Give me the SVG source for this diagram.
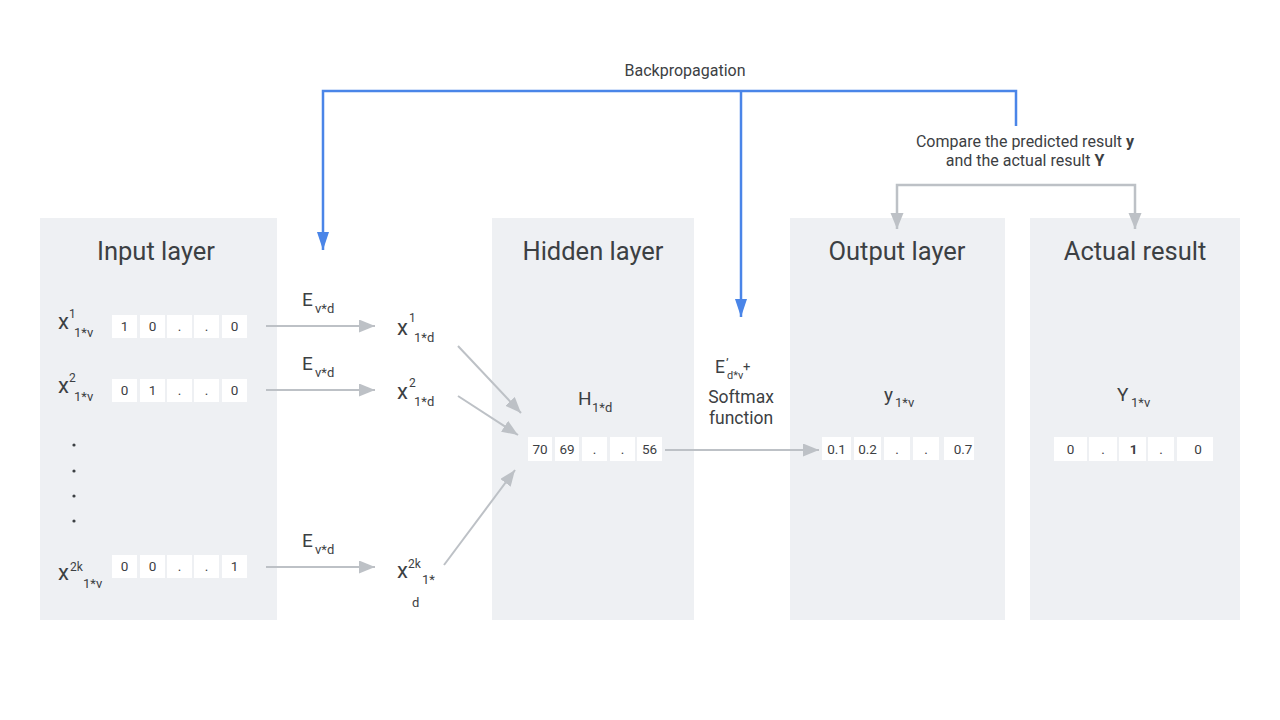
<svg xmlns="http://www.w3.org/2000/svg" width="1280" height="720" viewBox="0 0 1280 720">
<defs>
<style>
text{font-family:Roboto,"Liberation Sans",sans-serif;fill:#3c4043}
.panel{fill:#eef0f3}
.title{font-size:25.5px;text-anchor:middle}
.cell{fill:#ffffff}
.ct{font-size:13.5px;text-anchor:middle}
.big{font-size:22px}
.sym{font-size:19px}
.sup{font-size:12px}
.sub{font-size:13px}
.lbl{font-size:16px;text-anchor:middle}
.mid{font-size:17.5px;text-anchor:middle}
.g{fill:none;stroke:#bdc1c6;stroke-width:2}
.b{fill:none;stroke:#4a85e8;stroke-width:2.5}
</style>
<marker id="ag" markerUnits="userSpaceOnUse" markerWidth="18" markerHeight="14" refX="16" refY="6.5" orient="auto-start-reverse" viewBox="0 0 18 14"><path d="M0,0 L16,6.5 L0,13 z" fill="#bdc1c6"/></marker>
<marker id="ab" markerUnits="userSpaceOnUse" markerWidth="20" markerHeight="14" refX="18" refY="6" orient="auto" viewBox="0 0 20 14"><path d="M0,0 L18,6 L0,12 z" fill="#4a85e8"/></marker>
</defs>
<rect width="1280" height="720" fill="#ffffff"/>

<g id="input-layer">
<rect class="panel" x="40" y="218" width="237" height="402"/>
<text class="title" x="156" y="260">Input layer</text>
<text x="58" y="329"><tspan class="big">x</tspan></text>
<text class="sup" x="69" y="318">1</text>
<text class="sub" x="74" y="337">1*v</text>
<g>
<rect class="cell" x="112" y="315" width="25" height="23"/><rect class="cell" x="140" y="315" width="25" height="23"/><rect class="cell" x="167" y="315" width="25" height="23"/><rect class="cell" x="194" y="315" width="25" height="23"/><rect class="cell" x="222" y="315" width="25" height="23"/>
<text class="ct" x="124.5" y="331">1</text><text class="ct" x="152.5" y="331">0</text><text class="ct" x="179.5" y="331">.</text><text class="ct" x="206.5" y="331">.</text><text class="ct" x="234.5" y="331">0</text>
</g>
<text x="58" y="393"><tspan class="big">x</tspan></text>
<text class="sup" x="69" y="382">2</text>
<text class="sub" x="74" y="401">1*v</text>
<g>
<rect class="cell" x="112" y="379" width="25" height="23"/><rect class="cell" x="140" y="379" width="25" height="23"/><rect class="cell" x="167" y="379" width="25" height="23"/><rect class="cell" x="194" y="379" width="25" height="23"/><rect class="cell" x="222" y="379" width="25" height="23"/>
<text class="ct" x="124.5" y="395">0</text><text class="ct" x="152.5" y="395">1</text><text class="ct" x="179.5" y="395">.</text><text class="ct" x="206.5" y="395">.</text><text class="ct" x="234.5" y="395">0</text>
</g>
<circle cx="74" cy="445" r="1.6" fill="#3c4043"/>
<circle cx="74" cy="471" r="1.6" fill="#3c4043"/>
<circle cx="74" cy="496" r="1.6" fill="#3c4043"/>
<circle cx="74" cy="521" r="1.6" fill="#3c4043"/>
<text x="58" y="580"><tspan class="big">x</tspan></text>
<text class="sup" x="70" y="571">2k</text>
<text class="sub" x="83" y="588">1*v</text>
<g>
<rect class="cell" x="112" y="555" width="25" height="23"/><rect class="cell" x="140" y="555" width="25" height="23"/><rect class="cell" x="167" y="555" width="25" height="23"/><rect class="cell" x="194" y="555" width="25" height="23"/><rect class="cell" x="222" y="555" width="25" height="23"/>
<text class="ct" x="124.5" y="571">0</text><text class="ct" x="152.5" y="571">0</text><text class="ct" x="179.5" y="571">.</text><text class="ct" x="206.5" y="571">.</text><text class="ct" x="234.5" y="571">1</text>
</g>
</g>

<g id="embedding-labels">
<text x="302" y="306"><tspan class="sym">E</tspan></text><text class="sub" x="315" y="313">v*d</text>
<text x="302" y="370"><tspan class="sym">E</tspan></text><text class="sub" x="315" y="377">v*d</text>
<text x="302" y="547"><tspan class="sym">E</tspan></text><text class="sub" x="315" y="554">v*d</text>
</g>

<g id="word-vectors">
<text x="397" y="335"><tspan class="big">x</tspan></text>
<text class="sup" x="409" y="322">1</text>
<text class="sub" x="414" y="342">1*d</text>
<text x="397" y="399"><tspan class="big">x</tspan></text>
<text class="sup" x="409" y="387">2</text>
<text class="sub" x="414" y="406">1*d</text>
<text x="397" y="578"><tspan class="big">x</tspan></text>
<text class="sup" x="408" y="568">2k</text>
<text class="sub" x="422" y="584">1*</text>
<text class="sub" x="412" y="607">d</text>
</g>

<g id="hidden-layer">
<rect class="panel" x="492" y="218" width="202" height="402"/>
<text class="title" x="593" y="260">Hidden layer</text>
<text x="578" y="405"><tspan class="sym">H</tspan></text><text class="sub" x="592" y="412">1*d</text>
<rect class="cell" x="528" y="437" width="24" height="24"/><rect class="cell" x="555" y="437" width="24" height="24"/><rect class="cell" x="582" y="437" width="25" height="24"/><rect class="cell" x="610" y="437" width="25" height="24"/><rect class="cell" x="637" y="437" width="25" height="24"/>
<text class="ct" x="540" y="454">70</text><text class="ct" x="567" y="454">69</text><text class="ct" x="594.5" y="454">.</text><text class="ct" x="622.5" y="454">.</text><text class="ct" x="649.5" y="454">56</text>
</g>

<g id="softmax-label">
<text x="720" y="373" style="font-size:17.5px;text-anchor:middle">E</text>
<text x="726" y="368" style="font-size:13px">’</text>
<text x="727" y="379" style="font-size:11px">d*v</text>
<text x="743" y="371" style="font-size:13px">+</text>
<text class="mid" x="741" y="403">Softmax</text>
<text class="mid" x="741" y="424">function</text>
</g>

<g id="output-layer">
<rect class="panel" x="790" y="218" width="215" height="402"/>
<text class="title" x="897" y="260">Output layer</text>
<text x="884" y="401"><tspan class="sym">y</tspan></text><text class="sub" x="895" y="407">1*v</text>
<rect class="cell" x="822" y="437" width="29" height="23"/><rect class="cell" x="854" y="437" width="27" height="23"/><rect class="cell" x="884" y="437" width="26" height="23"/><rect class="cell" x="913" y="437" width="26" height="23"/><rect class="cell" x="944" y="437" width="30" height="23"/>
<text class="ct" x="836.5" y="454">0.1</text><text class="ct" x="867.5" y="454">0.2</text><text class="ct" x="897" y="454">.</text><text class="ct" x="926" y="454">.</text><text class="ct" x="963" y="454">0.7</text>
</g>

<g id="actual-result">
<rect class="panel" x="1030" y="218" width="210" height="402"/>
<text class="title" x="1135" y="260">Actual result</text>
<text x="1117" y="401"><tspan class="sym">Y</tspan></text><text class="sub" x="1131" y="407">1*v</text>
<rect class="cell" x="1054" y="437" width="33" height="24"/><rect class="cell" x="1089" y="437" width="28" height="24"/><rect class="cell" x="1119" y="437" width="27" height="24"/><rect class="cell" x="1148" y="437" width="26" height="24"/><rect class="cell" x="1177" y="437" width="36" height="24"/>
<text class="ct" x="1070.5" y="454">0</text><text class="ct" x="1103" y="454">.</text><text class="ct" x="1133.5" y="454" font-weight="bold">1</text><text class="ct" x="1161" y="454">.</text><text class="ct" x="1198" y="454">0</text>
</g>

<g id="labels">
<text class="lbl" x="685" y="76">Backpropagation</text>
<text class="lbl" x="1025" y="147">Compare the predicted result <tspan font-weight="bold">y</tspan></text>
<text class="lbl" x="1025" y="166">and the actual result <tspan font-weight="bold">Y</tspan></text>
</g>

<g id="connectors">
<line class="g" x1="266" y1="326" x2="375" y2="326" marker-end="url(#ag)"/>
<line class="g" x1="266" y1="390" x2="375" y2="390" marker-end="url(#ag)"/>
<line class="g" x1="266" y1="567" x2="375" y2="567" marker-end="url(#ag)"/>
<line class="g" x1="458" y1="346" x2="521" y2="413" marker-end="url(#ag)"/>
<line class="g" x1="458" y1="396" x2="518" y2="435" marker-end="url(#ag)"/>
<line class="g" x1="444" y1="565" x2="515" y2="470" marker-end="url(#ag)"/>
<line class="g" x1="665" y1="450" x2="819" y2="450" marker-end="url(#ag)"/>
<path class="g" style="stroke-width:2.5" d="M897,229 V185 H1135 V229" marker-start="url(#ag)" marker-end="url(#ag)"/>
<path class="b" d="M1016,126 V91 H323 V250" marker-end="url(#ab)"/>
<path class="b" d="M741,91 V317" marker-end="url(#ab)"/>
</g>
</svg>
